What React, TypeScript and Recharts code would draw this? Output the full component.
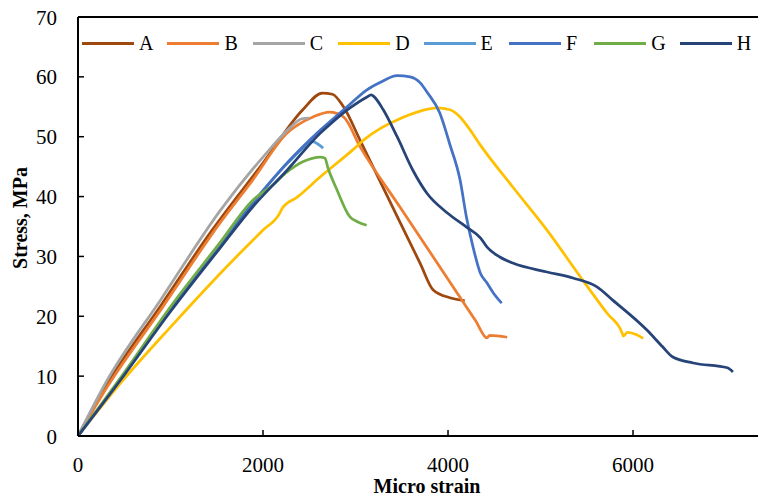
import { LineChart, Line, XAxis, YAxis, ReferenceLine, Label } from "recharts"

// stress-strain curves
const strainA = [0, 320, 900, 1450, 2000, 2430, 2640, 2750, 2870, 3050, 3450, 3700, 3840, 4020, 4180]
const stressA = [0, 8.8, 21.9, 34.4, 45.6, 54.5, 57.3, 57.1, 55.0, 49.4, 36.7, 28.8, 24.4, 23.1, 22.6]

const strainB = [0, 320, 900, 1535, 1890, 2260, 2540, 2720, 2870, 3050, 3500, 4000, 4300, 4420, 4450, 4640]
const stressB = [0, 8.3, 21.2, 35.6, 42.8, 50.6, 53.3, 54.1, 53.3, 48.3, 37.8, 26.2, 19.2, 16.4, 16.8, 16.5]

const strainC = [0, 300, 900, 1535, 2000, 2300, 2420, 2500]
const stressC = [0, 8.9, 22.9, 37.6, 46.6, 51.6, 53.0, 53.1]

const strainD = [0, 480, 1000, 1665, 2000, 2180, 2210, 2370, 2620, 2970, 3100, 3270, 3450, 3665, 3880, 4020, 4130, 4240, 4350, 4700, 5070, 5430, 5720, 5880, 5895, 5940, 6040, 6110]
const stressD = [0, 9.2, 18.2, 29.2, 34.4, 37.2, 38.1, 39.9, 43.3, 47.8, 49.6, 51.4, 52.8, 54.1, 54.8, 54.5, 53.3, 51.1, 48.6, 41.6, 34.4, 26.6, 20.5, 17.3, 16.7, 17.3, 16.9, 16.3]

const strainE = [0, 500, 1000, 1535, 1890, 2260, 2450, 2540, 2600, 2650]
const stressE = [0, 10.3, 21.0, 32.0, 39.0, 45.5, 48.3, 49.2, 48.7, 48.1]

const strainF = [0, 500, 1000, 1535, 1890, 2260, 2620, 2910, 3120, 3270, 3450, 3590, 3700, 3780, 3910, 4020, 4130, 4200, 4270, 4350, 4420, 4490, 4580]
const stressF = [0, 10.4, 21.2, 32.1, 38.9, 45.6, 51.1, 55.0, 57.8, 59.1, 60.2, 60.0, 59.0, 57.3, 54.0, 48.7, 42.8, 36.5, 31.6, 27.2, 25.6, 23.9, 22.2]

const strainG = [0, 500, 1000, 1535, 1890, 2080, 2260, 2430, 2620, 2670, 2700, 2800, 2940, 3020, 3120]
const stressG = [0, 10.6, 21.6, 32.3, 39.4, 41.6, 44.1, 45.8, 46.6, 46.4, 44.9, 41.1, 36.6, 35.8, 35.2]

const strainH = [0, 500, 1000, 1535, 1890, 2260, 2620, 2720, 2940, 3120, 3170, 3200, 3300, 3450, 3620, 3770, 3990, 4200, 4350, 4420, 4560, 4700, 5070, 5350, 5610, 5780, 6150, 6320, 6430, 6650, 7020, 7080]
const stressH = [0, 10.2, 20.8, 31.4, 38.3, 44.4, 50.6, 52.0, 54.8, 56.6, 57.0, 56.7, 54.5, 50.0, 44.4, 40.6, 37.3, 34.9, 33.1, 31.6, 29.9, 28.9, 27.4, 26.4, 24.9, 22.7, 17.7, 14.9, 13.2, 12.2, 11.4, 10.7]

const seriesNames = ["A", "B", "C", "D", "E", "F", "G", "H"]
const seriesColors = ["#9E480E", "#ED7D31", "#A5A5A5", "#FFC000", "#5B9BD5", "#4472C4", "#70AD47", "#264478"]

const xTicks = [0, 2000, 4000, 6000]
const yTicks = [0, 10, 20, 30, 40, 50, 60, 70]

const FONT = '"Liberation Serif", "Times New Roman", serif'

const toPoints = (xs: number[], ys: number[]) => xs.map((x, i) => ({ x, y: ys[i] }))

const curves = [
  toPoints(strainA, stressA),
  toPoints(strainB, stressB),
  toPoints(strainC, stressC),
  toPoints(strainD, stressD),
  toPoints(strainE, stressE),
  toPoints(strainF, stressF),
  toPoints(strainG, stressG),
  toPoints(strainH, stressH),
]

function XTick({ x, y, payload }: any) {
  return (
    <g>
      <line x1={x} x2={x} y1={y - 6} y2={y} stroke="#000" strokeWidth={1.5} />
      <text x={x} y={y + 36} textAnchor="middle" fontFamily={FONT} fontSize={21} fill="#000">
        {payload.value}
      </text>
    </g>
  )
}

function YTick({ x, y, payload }: any) {
  return (
    <g>
      <line x1={x} x2={x + 6} y1={y} y2={y} stroke="#000" strokeWidth={1.5} />
      <text x={x - 21} y={y + 7.5} textAnchor="end" fontFamily={FONT} fontSize={21} fill="#000">
        {payload.value}
      </text>
    </g>
  )
}

function LegendRow() {
  return (
    <div style={{ position: "absolute", top: 31, left: 82, display: "flex", fontFamily: FONT, fontSize: 20, lineHeight: "24px" }}>
      {seriesNames.map((name, i) => (
        <div key={name} style={{ width: i === seriesNames.length - 1 ? 72 : 85.4, display: "flex", alignItems: "center" }}>
          <span style={{ display: "inline-block", width: 52, height: 3, background: seriesColors[i] }} />
          <span style={{ marginLeft: 5 }}>{name}</span>
        </div>
      ))}
    </div>
  )
}

export default function App() {
  return (
    <div style={{ position: "absolute", top: 0, left: 0, width: 758, height: 500, overflow: "hidden" }}>
      <LineChart width={758} height={500} margin={{ top: 17, right: 0, bottom: 0, left: 0 }}>
        <XAxis
          type="number"
          dataKey="x"
          domain={[0, 7351]}
          ticks={xTicks}
          interval={0}
          height={64}
          tickSize={0}
          tickMargin={0}
          tickLine={false}
          tick={<XTick />}
          axisLine={{ stroke: "#000", strokeWidth: 2 }}
        >
          <Label
            value="Micro strain"
            position="insideBottom"
            offset={7}
            dx={9}
            style={{ fontFamily: FONT, fontSize: 20, fontWeight: 700, fill: "#000" }}
          />
        </XAxis>
        <YAxis
          type="number"
          domain={[0, 70]}
          ticks={yTicks}
          interval={0}
          width={78}
          tickSize={0}
          tickMargin={0}
          tickLine={false}
          tick={<YTick />}
          axisLine={{ stroke: "#000", strokeWidth: 2 }}
        >
          <Label
            content={() => (
              <text
                x={20}
                y={218}
                transform="rotate(-90 20 218)"
                textAnchor="middle"
                dominantBaseline="central"
                fontFamily={FONT}
                fontSize={20}
                fontWeight={700}
                fill="#000"
              >
                Stress, MPa
              </text>
            )}
          />
        </YAxis>
        <ReferenceLine y={70} stroke="#000" strokeWidth={2} />
        {curves.map((data, i) => (
          <Line
            key={seriesNames[i]}
            data={data}
            dataKey="y"
            name={seriesNames[i]}
            type="monotone"
            stroke={seriesColors[i]}
            strokeWidth={2.75}
            dot={false}
            isAnimationActive={false}
          />
        ))}
      </LineChart>
      <LegendRow />
    </div>
  )
}
